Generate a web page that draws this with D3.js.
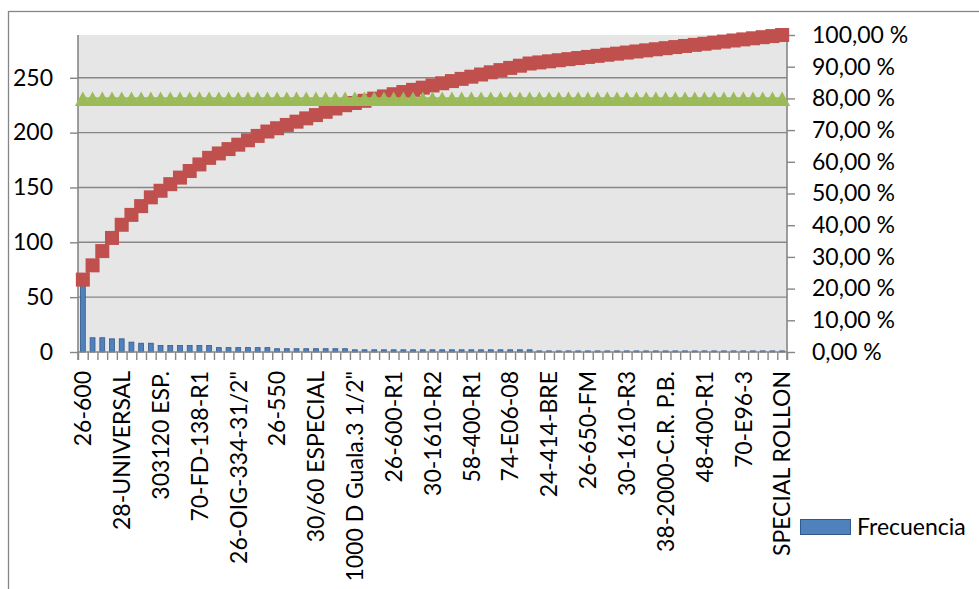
<!DOCTYPE html>
<html>
<head>
<meta charset="utf-8">
<script src="https://cdn.jsdelivr.net/npm/d3@7"></script>
<style>
  html, body { margin: 0; padding: 0; background: #fff; }
  svg { display: block; font-family: Lato, "Open Sans", sans-serif; }
</style>
</head>
<body>
<svg id="chart" width="979" height="589"></svg>
<script>
// ---- DATA ----
// Visible category labels (every 4th of 73 categories)
const tickLabels = ["26-600", "28-UNIVERSAL", "303120 ESP.", "70-FD-138-R1", "26-OIG-334-31/2\"",
  "26-550", "30/60 ESPECIAL", "1000 D Guala.3 1/2\"", "26-600-R1", "30-1610-R2",
  "58-400-R1", "74-E06-08", "24-414-BRE", "26-650-FM", "30-1610-R3",
  "38-2000-C.R. P.B.", "48-400-R1", "70-E96-3", "SPECIAL ROLLON"];
// Frequency per category (73 categories, Pareto order)
const frecuencia = [66, 13, 13, 12, 12, 9, 8, 8,
  6, 6, 6, 6, 6, 6,
  4, 4, 4, 4, 4, 4,
  3, 3, 3, 3, 3, 3, 3, 3,
  2, 2, 2, 2, 2, 2, 2, 2, 2, 2, 2, 2, 2, 2, 2, 2, 2, 2, 2,
  1, 1, 1, 1, 1, 1, 1, 1, 1, 1, 1, 1, 1, 1, 1, 1, 1, 1, 1, 1, 1, 1, 1, 1, 1, 1];
const umbral = 0.8; // 80 % reference series
const leftTicks = [0, 50, 100, 150, 200, 250];
const rightTicks = [0, 0.1, 0.2, 0.3, 0.4, 0.5, 0.6, 0.7, 0.8, 0.9, 1.0];
const rightTickLabels = ["0,00 %", "10,00 %", "20,00 %", "30,00 %", "40,00 %", "50,00 %",
  "60,00 %", "70,00 %", "80,00 %", "90,00 %", "100,00 %"];
const legendLabel = "Frecuencia";

// ---- DERIVED ----
const n = frecuencia.length;
const total = d3.sum(frecuencia);
const acumulado = Array.from(d3.cumsum(frecuencia), v => v / total);
const categories = d3.range(n).map(i => (i % 4 === 0 ? tickLabels[i / 4] : ""));

// ---- LAYOUT ----
const svg = d3.select("#chart");
const X0 = 78, X1 = 787, Y0 = 35, Y1 = 352;
const FS = 23;
const axisColor = "#868686";

// outer chart border
svg.append("rect").attr("x", 8.5).attr("y", 11.5).attr("width", 1200).attr("height", 1200)
  .attr("fill", "#fff").attr("stroke", axisColor).attr("stroke-width", 1.3);

// plot area
svg.append("rect").attr("x", X0).attr("y", Y0).attr("width", X1 - X0).attr("height", Y1 - Y0)
  .attr("fill", "#E6E6E6");

const x = d3.scaleBand().domain(d3.range(n)).range([X0, X1]).paddingInner(0.5).paddingOuter(0.25);
const xb = d3.scaleLinear().domain([0, n]).range([X0, X1]);
const yL = d3.scaleLinear().domain([0, total]).range([Y1, Y0]);
const yR = d3.scaleLinear().domain([0, 1]).range([Y1, Y0]);
const cx = i => x(i) + x.bandwidth() / 2;

// gridlines
svg.append("g").selectAll("line").data(leftTicks.filter(d => d > 0)).join("line")
  .attr("x1", X0).attr("x2", X1).attr("y1", d => yL(d)).attr("y2", d => yL(d))
  .attr("stroke", axisColor).attr("stroke-width", 1.4);

// left axis
const gL = svg.append("g").attr("transform", `translate(${X0},0)`)
  .call(d3.axisLeft(yL).tickValues(leftTicks).tickSize(8).tickPadding(17).tickFormat(d3.format("d")));
gL.select(".domain").remove();
gL.selectAll(".tick line").attr("stroke", axisColor).attr("stroke-width", 1.4);
gL.selectAll(".tick text").attr("font-size", FS).attr("font-family", "Lato").attr("fill", "#000");
svg.append("line").attr("x1", X0).attr("x2", X0).attr("y1", Y0).attr("y2", Y1 + 8)
  .attr("stroke", axisColor).attr("stroke-width", 1.6);

// right axis
const gR = svg.append("g").attr("transform", `translate(${X1},0)`)
  .call(d3.axisRight(yR).tickValues(rightTicks).tickSize(8).tickPadding(17)
    .tickFormat((d, i) => rightTickLabels[i]));
gR.select(".domain").remove();
gR.selectAll(".tick line").attr("stroke", axisColor).attr("stroke-width", 1.4);
gR.selectAll(".tick text").attr("font-size", FS).attr("font-family", "Lato").attr("fill", "#000");
svg.append("line").attr("x1", X1).attr("x2", X1).attr("y1", Y0).attr("y2", Y1 + 8)
  .attr("stroke", axisColor).attr("stroke-width", 1.6);

// bottom axis: boundary ticks
const gB = svg.append("g").attr("transform", `translate(0,${Y1})`)
  .call(d3.axisBottom(xb).tickValues(d3.range(n + 1)).tickSize(8).tickFormat(""));
gB.select(".domain").remove();
gB.selectAll(".tick line").attr("stroke", axisColor).attr("stroke-width", 1.4);

// bars
svg.append("g").selectAll("rect").data(frecuencia).join("rect")
  .attr("x", (d, i) => x(i)).attr("width", x.bandwidth())
  .attr("y", d => yL(d)).attr("height", d => Y1 - yL(d))
  .attr("fill", "#4F81BD").attr("stroke", "#33598A").attr("stroke-width", 0.8);

svg.append("line").attr("x1", X0).attr("x2", X1).attr("y1", Y1).attr("y2", Y1)
  .attr("stroke", axisColor).attr("stroke-width", 1.6);

// cumulative % line + square markers
svg.append("path").datum(acumulado)
  .attr("d", d3.line().x((d, i) => cx(i)).y(d => yR(d)))
  .attr("fill", "none").attr("stroke", "#C0504D").attr("stroke-width", 2.5);
svg.append("g").selectAll("rect").data(acumulado).join("rect")
  .attr("x", (d, i) => cx(i) - 7).attr("y", d => yR(d) - 7)
  .attr("width", 14).attr("height", 14).attr("fill", "#C0504D");

// 80% line + triangle markers
const th = d3.range(n).map(() => umbral);
svg.append("path").datum(th)
  .attr("d", d3.line().x((d, i) => cx(i)).y(d => yR(d)))
  .attr("fill", "none").attr("stroke", "#9BBB59").attr("stroke-width", 2.5);
svg.append("g").selectAll("path").data(th).join("path")
  .attr("transform", (d, i) => `translate(${cx(i)},${yR(d)})`)
  .attr("d", "M0,-7 L8,7.5 L-8,7.5 Z").attr("fill", "#9BBB59");

// category labels (rotated)
svg.append("g").selectAll("text").data(categories.map((c, i) => ({ c, i })).filter(d => d.c !== ""))
  .join("text")
  .attr("transform", d => `translate(${cx(d.i)},371) rotate(-90)`)
  .attr("text-anchor", "end").attr("dy", "0.36em")
  .attr("font-size", FS).attr("font-family", "Lato").attr("fill", "#000")
  .text(d => d.c);

// legend
svg.append("rect").attr("x", 800.5).attr("y", 519.5).attr("width", 50).attr("height", 15)
  .attr("fill", "#4F81BD").attr("stroke", "#33598A").attr("stroke-width", 1);
svg.append("text").attr("x", 857).attr("y", 527).attr("dy", "0.36em")
  .attr("font-size", FS).attr("font-family", "Lato").attr("fill", "#000").text(legendLabel);
</script>
</body>
</html>
